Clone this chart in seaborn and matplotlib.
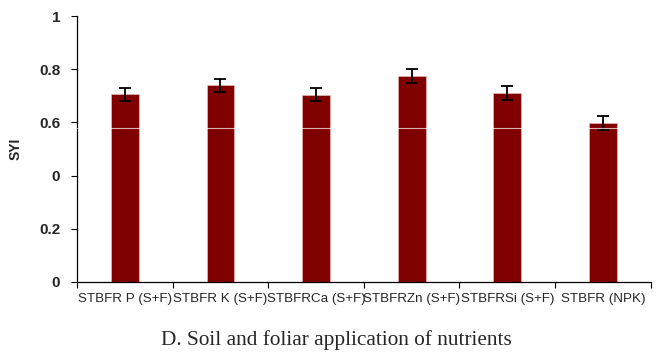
import matplotlib
matplotlib.use("Agg")
import matplotlib.pyplot as plt
import seaborn as sns
import pandas as pd
import numpy as np

categories = ["STBFR P (S+F)", "STBFR K (S+F)", "STBFRCa (S+F)",
              "STBFRZn (S+F)", "STBFRSi (S+F)", "STBFR (NPK)"]
syi = [0.705, 0.739, 0.704, 0.775, 0.710, 0.598]
err = [0.025, 0.025, 0.025, 0.025, 0.025, 0.025]
ytick_vals = [0, 0.2, 0.4, 0.6, 0.8, 1.0]
ytick_labels = ["0", "0.2", "0", "0.6", "0.8", "1"]

sns.set_theme(style="white")
plt.rcParams['font.family'] = ['Liberation Sans', 'DejaVu Sans']

df = pd.DataFrame({"cat": categories, "syi": syi})

fig = plt.figure(figsize=(6.64, 3.56), dpi=100)
ax = fig.add_axes([0.116, 0.208, 0.864, 0.747])

sns.barplot(data=df, x="cat", y="syi", color="#800000", saturation=1,
            width=0.29, errorbar=None, ax=ax, edgecolor="#e8b8b8", linewidth=0.5)
ax.errorbar(np.arange(len(categories)), syi, yerr=err, fmt="none",
            ecolor="black", elinewidth=1.3, capsize=4, capthick=1.3)
ax.axhline(0.58, color="white", lw=0.8, alpha=0.7, zorder=5)

ax.set_xlim(-0.5, len(categories) - 0.5)
ax.set_ylim(0, 1.0)
ax.set_yticks(ytick_vals)
ax.set_yticklabels(ytick_labels, fontsize=11, fontweight="bold")
ax.set_xticks(np.arange(len(categories)))
ax.set_xticklabels(categories, fontsize=9.6)
ax.tick_params(axis="x", length=0, pad=8)
# boundary ticks
ax.set_xticks(np.arange(len(categories) + 1) - 0.5, minor=True)
ax.tick_params(axis="x", which="minor", length=4, width=0.8, direction="out", color="black")
ax.tick_params(axis="y", length=4, width=0.8, direction="out", color="black", left=True, pad=8)
ax.tick_params(axis="x", which="minor", bottom=True)

ax.set_xlabel("")
ax.set_ylabel("SYI", fontsize=10, fontweight="bold", labelpad=12)
for s in ["top", "right"]:
    ax.spines[s].set_visible(False)
for s in ["left", "bottom"]:
    ax.spines[s].set_color("black")
    ax.spines[s].set_linewidth(0.9)

fig.text(0.507, 0.045, "D. Soil and foliar application of nutrients",
         ha="center", va="center", fontsize=15.3, family="Liberation Serif")

fig.savefig("out.png", dpi=100)
